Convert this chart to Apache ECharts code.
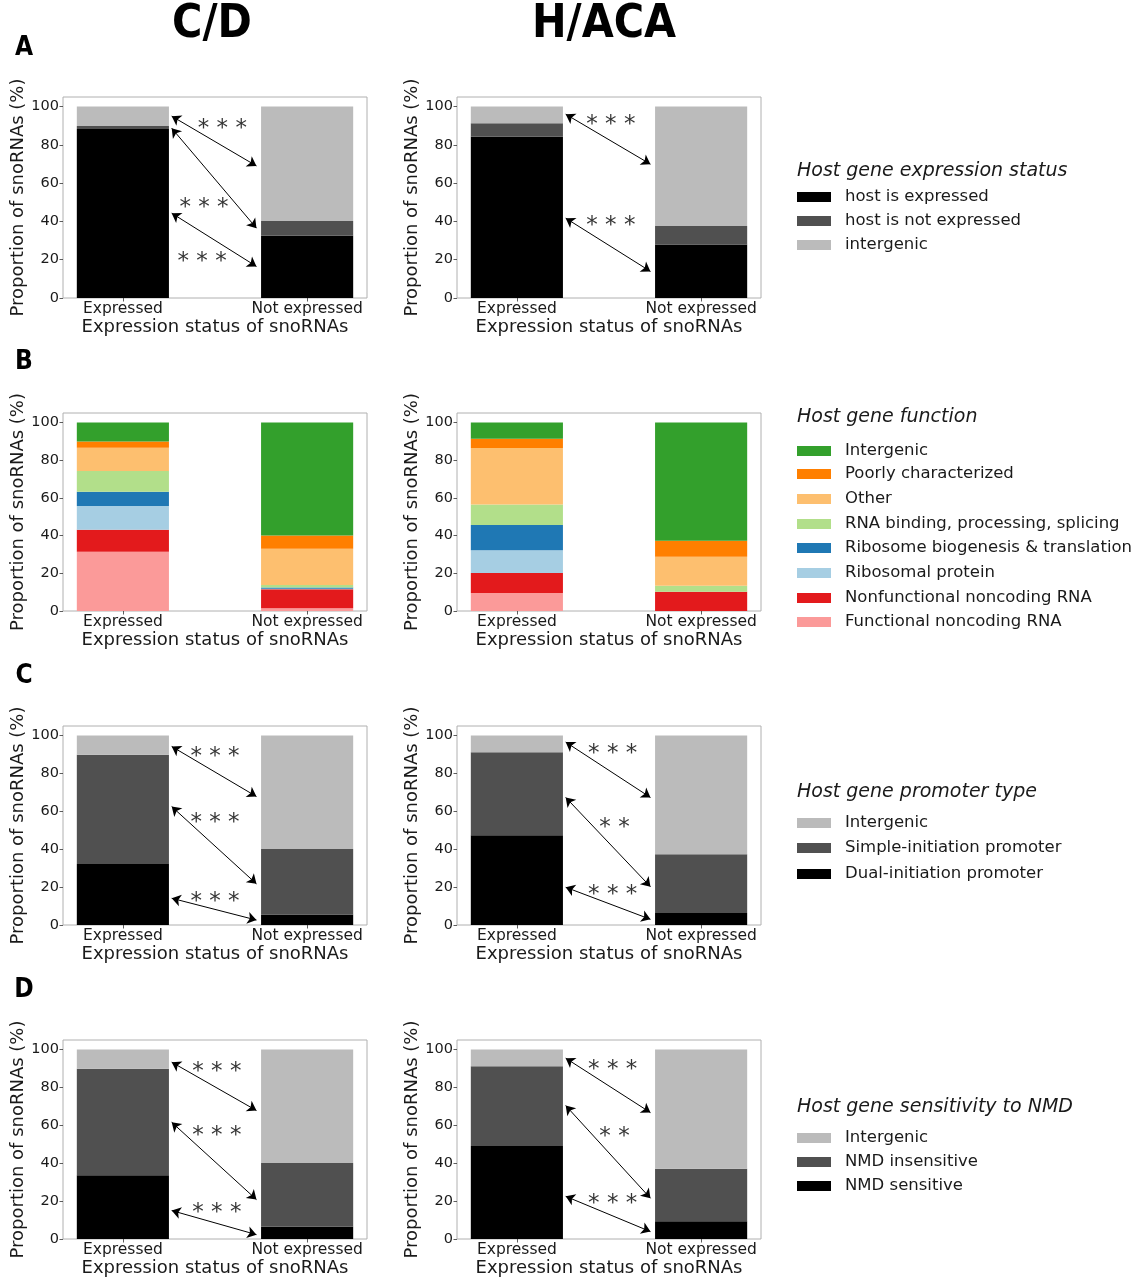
<!DOCTYPE html>
<html><head><meta charset="utf-8">
<script src="https://cdn.jsdelivr.net/npm/echarts@6/dist/echarts.min.js"></script>
<style>html,body{margin:0;padding:0;background:#fff}#chart{width:1140px;height:1280px}</style>
</head><body><div id="chart"></div>
<script>
// ---------- data ----------
const categories = ['Expressed', 'Not expressed'];
const yTicks = [0, 20, 40, 60, 80, 100];
const columnTitles = ['C/D', 'H/ACA'];
const panelLetters = ['A', 'B', 'C', 'D'];
const xAxisTitle = 'Expression status of snoRNAs';
const yAxisTitle = 'Proportion of snoRNAs (%)';

// Panel A: host gene expression status (stack order bottom -> top)
const statusNames = ['host is expressed', 'host is not expressed', 'intergenic'];
const statusCD   = [[88.3, 32.5], [1.6, 7.7], [10.1, 59.8]];
const statusHACA = [[84.2, 28.0], [7.1, 9.6], [8.7, 62.4]];

// Panel B: host gene function (stack order bottom -> top)
const functionNames = ['Functional noncoding RNA', 'Nonfunctional noncoding RNA', 'Ribosomal protein',
  'Ribosome biogenesis & translation', 'RNA binding, processing, splicing', 'Other',
  'Poorly characterized', 'Intergenic'];
const functionCD = [[31.4, 1.4], [11.7, 10.1], [12.6, 0.3], [7.6, 0.6], [10.9, 1.4], [12.4, 19.2], [3.3, 7.1], [10.1, 59.9]];
const functionHACA = [[9.5, 0.0], [10.6, 10.2], [12.1, 0.0], [13.4, 0.0], [10.9, 3.2], [29.9, 15.4], [4.9, 8.5], [8.7, 62.7]];

// Panel C: host gene promoter type (stack order bottom -> top)
const promoterNames = ['Dual-initiation promoter', 'Simple-initiation promoter', 'Intergenic'];
const promoterCD   = [[32.2, 5.6], [57.6, 34.5], [10.2, 59.9]];
const promoterHACA = [[47.4, 6.3], [43.8, 31.0], [8.8, 62.7]];

// Panel D: host gene sensitivity to NMD (stack order bottom -> top)
const nmdNames = ['NMD sensitive', 'NMD insensitive', 'Intergenic'];
const nmdCD   = [[33.6, 6.5], [56.2, 33.6], [10.2, 59.9]];
const nmdHACA = [[49.1, 9.3], [42.1, 27.8], [8.8, 62.9]];

// significance arrows: [y at Expressed side, y at Not expressed side]
const arrowsA_CD   = [[95.0, 69.0], [88.7, 36.5], [44.3, 16.5]];
const arrowsA_HACA = [[96.0, 69.9], [41.7, 13.9]];
const arrowsC_CD   = [[94.2, 67.8], [62.5, 21.7], [14.1, 2.6]];
const arrowsC_HACA = [[96.5, 67.3], [67.3, 20.2], [19.9, 3.0]];
const arrowsD_CD   = [[93.3, 67.8], [61.6, 20.8], [15.0, 2.3]];
const arrowsD_HACA = [[95.4, 66.7], [70.4, 21.5], [22.5, 3.9]];
const arrowEnds = [0.265, 0.725];
// significance labels: [text, x, y]
const starsA_CD   = [['* * *', 0.54, 91.1], ['* * *', 0.44, 49.4], ['* * *', 0.43, 21.6]];
const starsA_HACA = [['* * *', 0.51, 93.0], ['* * *', 0.51, 40.0]];
const starsC_CD   = [['* * *', 0.50, 91.5], ['* * *', 0.50, 56.4], ['* * *', 0.50, 15.0]];
const starsC_HACA = [['* * *', 0.52, 92.8], ['* *', 0.53, 53.7], ['* * *', 0.52, 18.5]];
const starsD_CD   = [['* * *', 0.51, 91.0], ['* * *', 0.51, 56.9], ['* * *', 0.51, 16.2]];
const starsD_HACA = [['* * *', 0.52, 91.9], ['* *', 0.53, 56.7], ['* * *', 0.52, 21.1]];

// legends
const legendTitles = ['Host gene expression status', 'Host gene function', 'Host gene promoter type', 'Host gene sensitivity to NMD'];

// ---------- styles ----------
const grayColors = ['#000000', '#505050', '#bbbbbb'];
const functionColors = ['#fb9a99', '#e31a1c', '#a6cee3', '#1f78b4', '#b2df8a', '#fdbf6f', '#ff7f00', '#33a02c'];
const FONT = 'DejaVu Sans';
const TXT = '#1a1a1a';
const X_MIN = -0.325, X_MAX = 1.325, Y_MAX = 105, BAR_HALF = 0.25;
const colLeft = [63, 457];
const gridWidth = 304;
const rowTop = [97, 413, 726, 1040];
const rowHeight = [201, 198, 199, 199];

const panels = [
  {names: statusNames, colors: grayColors, cols: [statusCD, statusHACA], arrows: [arrowsA_CD, arrowsA_HACA], stars: [starsA_CD, starsA_HACA]},
  {names: functionNames, colors: functionColors, cols: [functionCD, functionHACA], arrows: [[], []], stars: [[], []]},
  {names: promoterNames, colors: grayColors, cols: [promoterCD, promoterHACA], arrows: [arrowsC_CD, arrowsC_HACA], stars: [starsC_CD, starsC_HACA]},
  {names: nmdNames, colors: grayColors, cols: [nmdCD, nmdHACA], arrows: [arrowsD_CD, arrowsD_HACA], stars: [starsD_CD, starsD_HACA]},
];

const grids = [], xAxes = [], yAxes = [], series = [], graphics = [];

function stackedBarRender(color) {
  return function (params, api) {
    const x = api.value(0), base = api.value(1), v = api.value(2);
    const p0 = api.coord([x - BAR_HALF, base + v]);
    const p1 = api.coord([x + BAR_HALF, base]);
    return {type: 'rect', shape: {x: p0[0], y: p0[1], width: p1[0] - p0[0], height: p1[1] - p0[1]},
      style: {fill: color}};
  };
}

panels.forEach((p, r) => {
  [0, 1].forEach(c => {
    const idx = grids.length;
    grids.push({left: colLeft[c], top: rowTop[r], width: gridWidth, height: rowHeight[r],
      show: true, borderColor: '#b0b0b0', borderWidth: 1, backgroundColor: 'transparent'});
    xAxes.push({gridIndex: idx, type: 'value', min: X_MIN, max: X_MAX, position: 'bottom',
      axisLine: {show: false, onZero: false}, splitLine: {show: false},
      axisTick: {show: true, customValues: [0, 1], length: 3.5, lineStyle: {color: '#333', width: 0.8}},
      axisLabel: {customValues: [0, 1], formatter: v => categories[Math.round(v)], margin: 3,
        fontFamily: FONT, fontSize: 15.5, color: TXT},
      name: xAxisTitle, nameLocation: 'middle', nameGap: 20,
      nameTextStyle: {fontFamily: FONT, fontSize: 18, color: TXT}});
    yAxes.push({gridIndex: idx, type: 'value', min: 0, max: Y_MAX, position: 'left',
      axisLine: {show: false, onZero: false}, splitLine: {show: false},
      axisTick: {show: true, customValues: yTicks, length: 3.5, lineStyle: {color: '#333', width: 0.8}},
      axisLabel: {customValues: yTicks, margin: 4, fontFamily: FONT, fontSize: 14.5, color: TXT},
      name: yAxisTitle, nameLocation: 'middle', nameGap: 32, nameRotate: 90,
      nameTextStyle: {fontFamily: FONT, fontSize: 18, color: TXT}});
    const vals = p.cols[c];
    const base = categories.map(() => 0);
    p.names.forEach((name, k) => {
      const data = categories.map((cat, j) => [j, base[j], vals[k][j]]);
      categories.forEach((cat, j) => { base[j] += vals[k][j]; });
      series.push({type: 'custom', name, xAxisIndex: idx, yAxisIndex: idx, silent: true,
        encode: {x: 0, y: 2}, renderItem: stackedBarRender(p.colors[k]), data});
    });
    const arrows = p.arrows[c], stars = p.stars[c];
    if (arrows.length || stars.length) {
      series.push({type: 'scatter', xAxisIndex: idx, yAxisIndex: idx, symbolSize: 0, silent: true, z: 5,
        data: stars.map(s => [s[1], s[2], s[0]]),
        label: {show: true, position: 'inside', formatter: q => q.data[2],
          fontFamily: FONT, fontSize: 23, color: '#000', offset: [0, 5]},
        markLine: {silent: true, symbol: ['arrow', 'arrow'], symbolSize: 9,
          label: {show: false}, lineStyle: {color: '#000', width: 1, type: 'solid'},
          emphasis: {disabled: true},
          data: arrows.map(a => [{coord: [arrowEnds[0], a[0]]}, {coord: [arrowEnds[1], a[1]]}])}});
    }
  });
});

// column titles and panel letters
const titleX = [212, 604];
columnTitles.forEach((t, c) => graphics.push({type: 'text', x: titleX[c], y: 25,
  style: {text: t, fontFamily: "'DejaVu Sans Condensed', 'DejaVu Sans'", fontWeight: 'bold', fontSize: 46,
    fill: '#000', textAlign: 'center', textVerticalAlign: 'middle'}}));
const letterY = [48, 362, 676, 990];
panelLetters.forEach((t, r) => graphics.push({type: 'text', x: 24, y: letterY[r],
  style: {text: t, fontFamily: "'DejaVu Sans Condensed', 'DejaVu Sans'", fontWeight: 'bold', fontSize: 26,
    fill: '#000', textAlign: 'center', textVerticalAlign: 'middle'}}));

// legends (top entry first)
const legendLayout = [
  {title: 171, items: [197, 221, 245], reverse: false},
  {title: 417, items: [451, 474, 499, 524, 548, 573, 598, 622], reverse: true},
  {title: 792, items: [823, 848, 874], reverse: true},
  {title: 1107, items: [1138, 1162, 1186], reverse: true},
];
panels.forEach((p, r) => {
  const L = legendLayout[r];
  graphics.push({type: 'text', x: 797, y: L.title,
    style: {text: legendTitles[r], fontFamily: FONT, fontStyle: 'italic', fontSize: 19, fill: TXT,
      textAlign: 'left', textVerticalAlign: 'middle'}});
  const order = p.names.map((n, k) => k);
  if (L.reverse) order.reverse();
  order.forEach((k, i) => {
    graphics.push({type: 'rect', shape: {x: 797, y: L.items[i] - 5, width: 34, height: 10},
      style: {fill: p.colors[k]}});
    graphics.push({type: 'text', x: 845, y: L.items[i],
      style: {text: p.names[k], fontFamily: FONT, fontSize: 16.5, fill: TXT,
        textAlign: 'left', textVerticalAlign: 'middle'}});
  });
});

const chart = echarts.init(document.getElementById('chart'), null, {renderer: 'canvas'});
chart.setOption({
  backgroundColor: '#fff',
  animation: false,
  grid: grids, xAxis: xAxes, yAxis: yAxes, series, graphic: graphics,
  tooltip: {show: false}
});
</script></body></html>
